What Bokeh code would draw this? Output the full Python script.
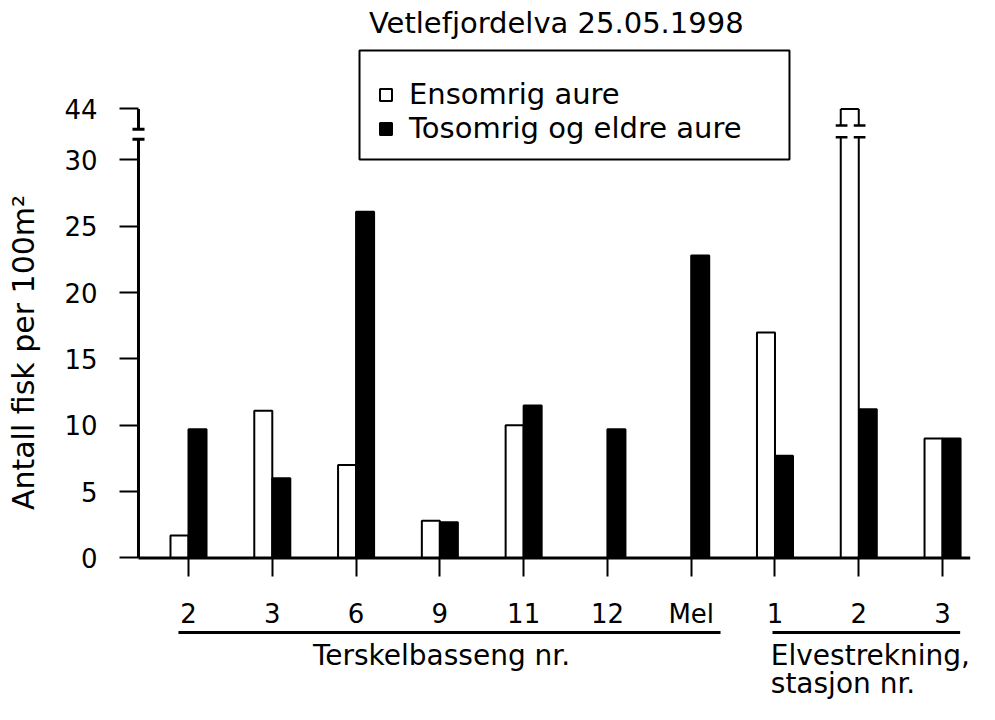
from bokeh.plotting import figure
from bokeh.models import (Range1d, LinearAxis, FixedTicker, Legend, LegendItem,
                          ColumnDataSource, BoxAnnotation)
from bokeh.core.properties import value
from bokeh.embed import file_html
from bokeh.resources import INLINE

# ---------------- data ----------------
categories = ["2", "3", "6", "9", "11", "12", "Mel", "1", "2", "3"]
ensomrig = [1.7, 11.1, 7.0, 2.8, 10.0, 0.0, 0.0, 17.0, 44.0, 9.0]
tosomrig = [9.7, 6.0, 26.1, 2.7, 11.5, 9.7, 22.8, 7.7, 11.2, 9.0]
y_tick_values = [0, 5, 10, 15, 20, 25, 30, 44]
series_names = ["Ensomrig aure", "Tosomrig og eldre aure"]
group_names = ["Terskelbasseng nr.", "Elvestrekning,", "stasjon nr."]
group_first = [0, 7]
group_last = [6, 9]
title_text = "Vetlefjordelva 25.05.1998"
y_label = "Antall fisk per 100m\u00b2"

# ------------- broken axis mapping -------------
AXIS_BREAK_LO = 31.55
AXIS_BREAK_HI = 32.3
BAR_BREAK_LO = 31.7
BAR_BREAK_HI = 32.6
TOP_VALUE = 44.0
TOP_POS = 33.84


def ypos(v):
    if v <= 30:
        return v
    return TOP_POS - (TOP_VALUE - v)


FONT = "DejaVu Sans"
BAR_W = 0.215
Y_AXIS_X = -0.597
X_AXIS_END = 9.33

p = figure(width=979, height=704, output_backend="svg", toolbar_location=None,
           x_range=Range1d(-2.244, 9.441), y_range=Range1d(-11.04, 42.01),
           x_axis_location=None, y_axis_location=None, min_border=0)
p.outline_line_color = None
p.background_fill_color = "white"
p.border_fill_color = "white"
p.xgrid.visible = False
p.ygrid.visible = False

n = len(categories)
xs = list(range(n))

# ---------------- bars ----------------
w_x = [i - BAR_W / 2 for i in xs]
b_x = [i + BAR_W / 2 for i in xs]
normal_idx = [i for i in xs if ensomrig[i] <= 30]
broken_idx = [i for i in xs if ensomrig[i] > 30]

src_w = ColumnDataSource(dict(x=[w_x[i] for i in normal_idx],
                              top=[ypos(ensomrig[i]) for i in normal_idx]))
r_white = p.vbar(x="x", top="top", bottom=0, width=BAR_W, source=src_w,
                 fill_color="white", line_color="black", line_width=2)

src_b = ColumnDataSource(dict(x=b_x, top=[ypos(v) for v in tosomrig]))
r_black = p.vbar(x="x", top="top", bottom=0, width=BAR_W, source=src_b,
                 fill_color="black", line_color="black", line_width=2)

# broken bar(s)
bx = [w_x[i] for i in broken_idx]
btop = [ypos(ensomrig[i]) for i in broken_idx]
p.vbar(x=bx, top=[BAR_BREAK_LO] * len(bx), bottom=0, width=BAR_W,
       fill_color="white", line_color=None)
p.vbar(x=bx, top=btop, bottom=BAR_BREAK_HI, width=BAR_W,
       fill_color="white", line_color=None)
edge_x0, edge_y0, edge_x1, edge_y1 = [], [], [], []
ser_x0, ser_y0, ser_x1, ser_y1 = [], [], [], []
SER = 0.06
for c, t in zip(bx, btop):
    for ex in (c - BAR_W / 2, c + BAR_W / 2):
        edge_x0 += [ex, ex]
        edge_y0 += [0, BAR_BREAK_HI]
        edge_x1 += [ex, ex]
        edge_y1 += [BAR_BREAK_LO, t]
        for yy in (BAR_BREAK_LO, BAR_BREAK_HI):
            ser_x0.append(ex - SER)
            ser_x1.append(ex + 0.08)
            ser_y0.append(yy)
            ser_y1.append(yy)
    edge_x0.append(c - BAR_W / 2)
    edge_x1.append(c + BAR_W / 2)
    edge_y0.append(t)
    edge_y1.append(t)
p.segment(edge_x0, edge_y0, edge_x1, edge_y1, line_color="black", line_width=2)
p.segment(ser_x0, ser_y0, ser_x1, ser_y1, line_color="black", line_width=2.5)

# ---------------- custom axis lines ----------------
p.segment([Y_AXIS_X, Y_AXIS_X, Y_AXIS_X - 0.072, Y_AXIS_X - 0.072, Y_AXIS_X],
          [0, AXIS_BREAK_HI, AXIS_BREAK_LO, AXIS_BREAK_HI, 0],
          [Y_AXIS_X, Y_AXIS_X, Y_AXIS_X + 0.072, Y_AXIS_X + 0.072, X_AXIS_END],
          [AXIS_BREAK_LO, TOP_POS, AXIS_BREAK_LO, AXIS_BREAK_HI, 0],
          line_color="black", line_width=3)

# ---------------- axes ----------------
yaxis = LinearAxis(fixed_location=Y_AXIS_X)
yaxis.ticker = FixedTicker(ticks=[ypos(v) for v in y_tick_values])
yaxis.major_label_overrides = {ypos(v): str(v) for v in y_tick_values}
yaxis.axis_line_color = None
yaxis.major_tick_out = 19
yaxis.major_tick_in = 0
yaxis.major_tick_line_width = 2
yaxis.minor_tick_line_color = None
yaxis.major_label_standoff = 22
yaxis.major_label_text_font = FONT
yaxis.major_label_text_font_size = "26px"
yaxis.major_label_text_color = "black"
yaxis.axis_label = y_label
yaxis.axis_label_text_font = FONT
yaxis.axis_label_text_font_size = "30px"
yaxis.axis_label_text_font_style = "normal"
yaxis.axis_label_text_color = "black"
yaxis.axis_label_standoff = 20
p.add_layout(yaxis, "left")

xaxis = LinearAxis(fixed_location=0)
xaxis.ticker = FixedTicker(ticks=xs)
xaxis.major_label_overrides = {i: categories[i] for i in xs}
xaxis.axis_line_color = None
xaxis.major_tick_out = 19
xaxis.major_tick_in = 0
xaxis.major_tick_line_width = 2
xaxis.minor_tick_line_color = None
xaxis.major_label_standoff = 22
xaxis.major_label_text_font = FONT
xaxis.major_label_text_font_size = "26px"
xaxis.major_label_text_color = "black"
p.add_layout(xaxis, "below")

# ---------------- group lines and labels ----------------
GROUP_Y = -5.61
p.segment([group_first[0] - 0.12, group_first[1] - 0.03], [GROUP_Y] * 2,
          [group_last[0] + 0.35, group_last[1] + 0.21], [GROUP_Y] * 2,
          line_color="black", line_width=3)
p.text(x=[3.02], y=[-7.35], text=[group_names[0]], text_align="center",
       text_baseline="alphabetic", text_font=value(FONT), text_font_size="28px",
       text_color="black")
p.text(x=[6.95, 6.95], y=[-7.35, -9.46], text=group_names[1:], text_align="left",
       text_baseline="alphabetic", text_font=value(FONT), text_font_size="28px",
       text_color="black")

# ---------------- title ----------------
p.text(x=[4.39], y=[40.35], text=[title_text], text_align="center",
       text_baseline="alphabetic", text_font=value(FONT), text_font_size="29px",
       text_color="black")

# ---------------- legend ----------------
legend_box = BoxAnnotation(left=2.041, right=7.173, top=38.24, bottom=30.03,
                           fill_color="white", fill_alpha=1.0,
                           line_color="black", line_width=2, line_alpha=1.0)
p.add_layout(legend_box)
legend = Legend(items=[LegendItem(label=series_names[0], renderers=[r_white]),
                       LegendItem(label=series_names[1], renderers=[r_black])],
                location=(378, 559), margin=0, padding=10, spacing=-4,
                glyph_width=15, glyph_height=15, label_standoff=16,
                label_text_font=FONT, label_text_font_size="29px",
                label_text_color="black",
                border_line_color=None, background_fill_alpha=0)
p.add_layout(legend)

open("out.html", "w").write(file_html(p, INLINE))
